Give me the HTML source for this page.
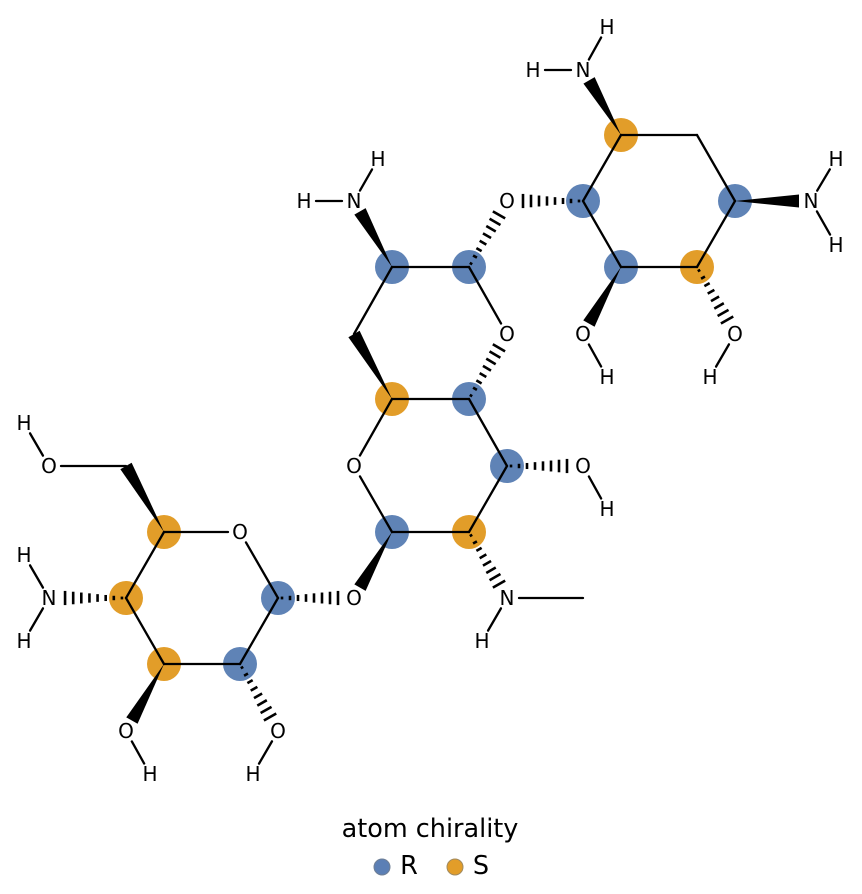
<!DOCTYPE html>
<html><head><meta charset="utf-8">
<style>
html,body{margin:0;padding:0;background:#fff;}
svg{display:block;}
text{font-family:"DejaVu Sans","Liberation Sans",sans-serif;font-size:20px;fill:#000;text-anchor:middle;dominant-baseline:central;}
</style></head>
<body>
<svg id="s" width="862" height="894" viewBox="0 0 862 894" xmlns="http://www.w3.org/2000/svg">
<g id="circ"></g>
<g id="bonds"></g>
<g id="labels">
<text x="583" y="70">N</text><text x="533" y="70">H</text><text x="607" y="27">H</text>
<text x="811" y="201">N</text><text x="836" y="159">H</text><text x="836" y="245">H</text>
<text x="583" y="334">O</text><text x="607" y="377">H</text>
<text x="735" y="334">O</text><text x="710" y="377">H</text>
<text x="507" y="201">O</text>
<text x="507" y="334">O</text>
<text x="354" y="201">N</text><text x="304" y="201">H</text><text x="378" y="159">H</text>
<text x="354" y="466">O</text>
<text x="583" y="466">O</text><text x="607" y="509">H</text>
<text x="507" y="598">N</text><text x="482" y="641">H</text>
<text x="354" y="598">O</text>
<text x="240" y="532">O</text>
<text x="49" y="466">O</text><text x="24" y="423">H</text>
<text x="49" y="598">N</text><text x="24" y="555">H</text><text x="24" y="641">H</text>
<text x="126" y="731">O</text><text x="150" y="774">H</text>
<text x="278" y="731">O</text><text x="253" y="774">H</text>
<text x="430" y="829" style="font-size:25.5px">atom chirality</text>
<circle cx="382" cy="867" r="8" fill="#5b7fb5" stroke="#6f7f95" stroke-width="1"/>
<text x="409" y="866" style="font-size:25.5px">R</text>
<circle cx="455" cy="867" r="8" fill="#e29d29" stroke="#a08a60" stroke-width="1"/>
<text x="481" y="866" style="font-size:25.5px">S</text>
</g>
</svg>
<script>
var A={
Ca:[621,135,'S'],Cx:[697,135],Cb:[735,201,'R'],Cc:[697,267,'S'],Cd:[621,267,'R'],Ce:[583,201,'R'],
N1:[583,70,'L'],H1a:[533,70,'L'],H1b:[607,27,'L'],
N2:[811,201,'L'],H2a:[836,159,'L'],H2b:[836,245,'L'],
O3:[583,334,'L'],H3:[607,377,'L'],O4:[735,334,'L'],H4:[710,377,'L'],
Og:[507,201,'L'],
Cf:[469,267,'R'],Cg:[392,267,'R'],Cy:[354,334],Ch:[392,399,'S'],Ci:[469,399,'R'],Or:[507,334,'L'],
N5:[354,201,'L'],H5a:[304,201,'L'],H5b:[378,159,'L'],
Or2:[354,466,'L'],Cj:[392,532,'R'],Ck:[469,532,'S'],Cl:[507,466,'R'],
O6:[583,466,'L'],H6:[607,509,'L'],N7:[507,598,'L'],H7:[482,641,'L'],Me:[583,598],
Og2:[354,598,'L'],
Cm:[278,598,'R'],Or3:[240,532,'L'],Cn:[164,532,'S'],Co:[126,598,'S'],Cp:[164,664,'S'],Cq:[240,664,'R'],
Cz:[126,466],O8:[49,466,'L'],H8:[24,423,'L'],N9:[49,598,'L'],H9a:[24,555,'L'],H9b:[24,641,'L'],
O10:[126,731,'L'],H10:[150,774,'L'],O11:[278,731,'L'],H11:[253,774,'L']
};
var B=[
['Ca','Cx'],['Cx','Cb'],['Cb','Cc'],['Cc','Cd'],['Cd','Ce'],['Ce','Ca'],
['Ca','N1','w'],['N1','H1a'],['N1','H1b'],['Cb','N2','w'],['N2','H2a'],['N2','H2b'],
['Cd','O3','w'],['O3','H3'],['Cc','O4','h'],['O4','H4'],
['Ce','Og','h'],['Cf','Og','h'],
['Cf','Cg'],['Cg','Cy'],['Ch','Cy','w'],['Ch','Ci'],['Ci','Or','h'],['Or','Cf'],
['Cg','N5','w'],['N5','H5a'],['N5','H5b'],
['Ch','Or2'],['Or2','Cj'],['Cj','Ck'],['Ck','Cl'],['Cl','Ci'],
['Cl','O6','h'],['O6','H6'],['Ck','N7','h'],['N7','H7'],['N7','Me'],
['Cj','Og2','w'],['Cm','Og2','h'],
['Cm','Or3'],['Or3','Cn'],['Cn','Co'],['Co','Cp'],['Cp','Cq'],['Cq','Cm'],
['Cn','Cz','w'],['Cz','O8'],['O8','H8'],['Co','N9','h'],['N9','H9a'],['N9','H9b'],
['Cp','O10','w'],['O10','H10'],['Cq','O11','h'],['O11','H11']
];
var NS='http://www.w3.org/2000/svg';
function el(p,t,a){var e=document.createElementNS(NS,t);for(var k in a)e.setAttribute(k,a[k]);p.appendChild(e);return e;}
var circ=document.getElementById('circ'),bg=document.getElementById('bonds');
for(var k in A){var a=A[k];if(a[2]=='R'||a[2]=='S')el(circ,'circle',{cx:a[0],cy:a[1],r:17,fill:a[2]=='R'?'#5f83b6':'#e29d29'});}
B.forEach(function(b){
 var p=A[b[0]],q=A[b[1]];var x1=p[0],y1=p[1],x2=q[0],y2=q[1];
 var dx=x2-x1,dy=y2-y1,L=Math.sqrt(dx*dx+dy*dy),ux=dx/L,uy=dy/L;
 var s1=p[2]=='L'?12:0,s2=q[2]=='L'?12:0;
 x1+=ux*s1;y1+=uy*s1;x2-=ux*s2;y2-=uy*s2;
 var nx=-uy,ny=ux;
 if(b[2]=='w'){
  var w=6.5;
  el(bg,'polygon',{points:x1+','+y1+' '+(x2+nx*w)+','+(y2+ny*w)+' '+(x2-nx*w)+','+(y2-ny*w),fill:'#000'});
 }else if(b[2]=='h'){
  var n=8;
  for(var i=0;i<n;i++){var t=(i+0.5)/n;var cx=x1+(x2-x1)*t,cy=y1+(y2-y1)*t;var w=1+6.5*t;
   el(bg,'line',{x1:cx+nx*w,y1:cy+ny*w,x2:cx-nx*w,y2:cy-ny*w,stroke:'#000','stroke-width':2.6});}
 }else{
  el(bg,'line',{x1:x1,y1:y1,x2:x2,y2:y2,stroke:'#000','stroke-width':2.3,'stroke-linecap':'round'});
 }
});
</script>
</body></html>
